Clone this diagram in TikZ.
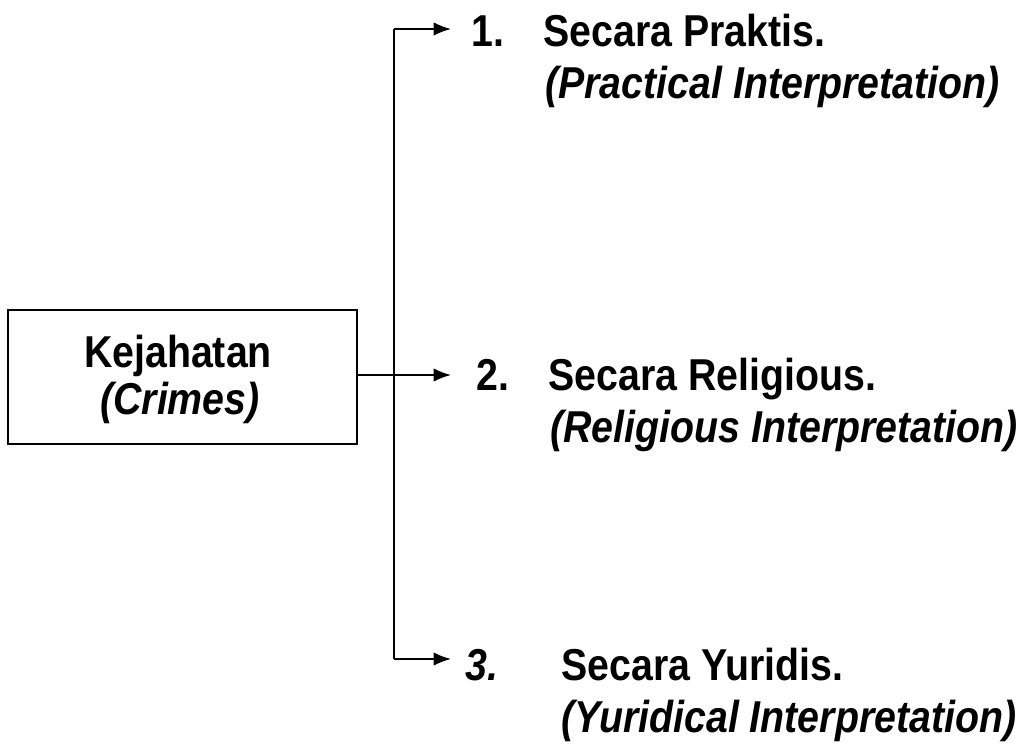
\documentclass[tikz,border=0pt]{standalone}
\usepackage{fontspec}
\setmainfont{Liberation Sans}[FakeStretch=0.88]
\usetikzlibrary{arrows.meta}
\tikzset{
  txt/.style={inner sep=0pt, font=\bfseries\fontsize{33.5}{40}\selectfont},
  itxt/.style={inner sep=0pt, font=\bfseries\itshape\fontsize{33.5}{40}\selectfont},
  lbl/.style={txt, anchor=base west},
  ilbl/.style={itxt, anchor=base west},
  conn/.style={line width=1.3pt, -{Latex[length=13pt,width=10pt]}},
  crimebox/.style={draw, line width=1pt, minimum width=261.75pt, minimum height=100.5pt, inner sep=0pt}
}
\begin{document}
\begin{tikzpicture}[x=0.75pt,y=-0.75pt]
\useasboundingbox (0,0) rectangle (1024,746);
\node[crimebox] (box) at (182.5,377) {};
\node[txt, anchor=base] (k1) at (178,367) {Kejahatan};
\node[itxt, anchor=base] (k2) at (180,414) {(Crimes)};
\coordinate (top) at (394,29);
\coordinate (bot) at (394,659);
\coordinate (t1) at (451,29);
\coordinate (t2) at (451,375);
\coordinate (t3) at (451,659);
\draw[line width=1.3pt] (top) -- (bot);
\draw[conn] (top) -- (t1);
\draw[conn] (box.east |- t2) -- (t2);
\draw[conn] (bot) -- (t3);
\node[lbl] (n1) at (471,46) {1.};
\node[lbl] (s1) at (543,46) {Secara Praktis.};
\node[ilbl] (e1) at (545,98) {(Practical Interpretation)};
\node[lbl] (n2) at (476,390) {2.};
\node[lbl] (s2) at (548,390) {Secara Religious.};
\node[ilbl] (e2) at (550,442) {(Religious Interpretation)};
\node[ilbl] (n3) at (465,680) {3.};
\node[lbl] (s3) at (561,680) {Secara Yuridis.};
\node[ilbl] (e3) at (561,732) {(Yuridical Interpretation)};
\end{tikzpicture}
\end{document}
